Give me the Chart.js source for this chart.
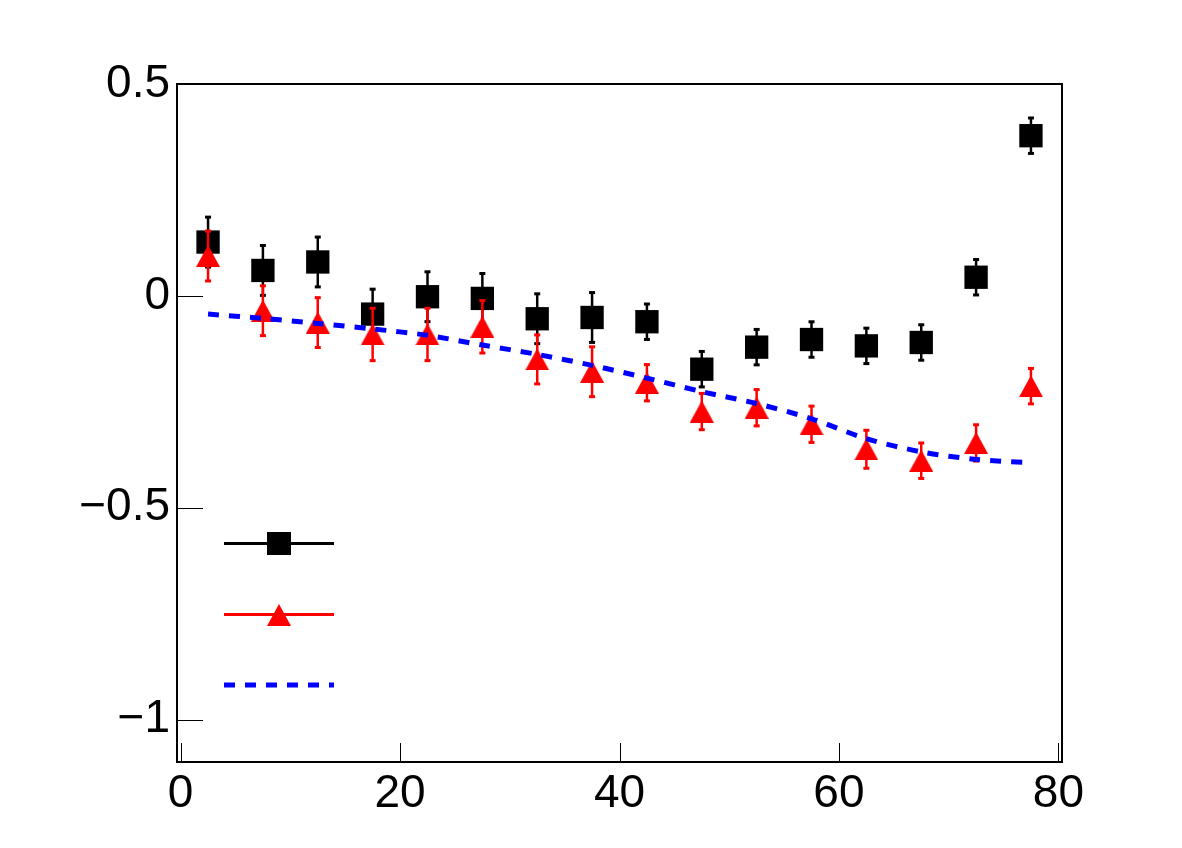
<!DOCTYPE html>
<html>
<head>
<meta charset="utf-8">
<script src="https://cdn.jsdelivr.net/npm/chart.js@4"></script>
<style>
  html, body { margin: 0; padding: 0; background: #fff; }
  canvas { display: block; }
</style>
</head>
<body>
<canvas id="c" width="1182" height="848"></canvas>
<script>
// ---- data ----
const xVals = [2.5, 7.5, 12.5, 17.5, 22.5, 27.5, 32.5, 37.5, 42.5, 47.5, 52.5, 57.5, 62.5, 67.5, 72.5, 77.5];
const blackY = [0.127, 0.060, 0.080, -0.043, -0.002, -0.006, -0.054, -0.051, -0.061, -0.173, -0.121, -0.103, -0.118, -0.110, 0.044, 0.378];
const blackErr = [0.06, 0.06, 0.06, 0.06, 0.06, 0.06, 0.06, 0.06, 0.043, 0.043, 0.043, 0.043, 0.043, 0.043, 0.043, 0.043];
const redY = [0.094, -0.035, -0.063, -0.091, -0.091, -0.073, -0.150, -0.179, -0.205, -0.273, -0.264, -0.303, -0.362, -0.389, -0.347, -0.213];
const redErr = [0.06, 0.06, 0.06, 0.063, 0.063, 0.063, 0.059, 0.06, 0.044, 0.044, 0.044, 0.044, 0.046, 0.043, 0.044, 0.043];
const curveY = [-0.043, -0.053, -0.065, -0.078, -0.093, -0.116, -0.138, -0.164, -0.194, -0.226, -0.254, -0.290, -0.337, -0.368, -0.386, -0.394];
const xTicks = [0, 20, 40, 60, 80];
const yTicks = [-1, -0.5, 0, 0.5];

const FONT = "'Liberation Sans', Arial, sans-serif";
const minus = (v) => String(v).replace('-', '\u2212');

// triangle marker as a small image so it sits centred on the point
function triangleImg(w, h, color) {
  const cv = document.createElement('canvas');
  cv.width = w; cv.height = h;
  const g = cv.getContext('2d');
  g.fillStyle = color;
  g.beginPath();
  g.moveTo(w / 2, 0); g.lineTo(w, h); g.lineTo(0, h); g.closePath();
  g.fill();
  return cv;
}
const tri = triangleImg(24, 22, '#ff0000');

function errorBars(ctx, chart, ys, errs, color) {
  const xs = chart.scales.x, yscale = chart.scales.y;
  ctx.save();
  ctx.strokeStyle = color;
  ctx.fillStyle = color;
  ctx.lineWidth = 2.5;
  xVals.forEach((xv, i) => {
    const px = xs.getPixelForValue(xv);
    const top = yscale.getPixelForValue(ys[i] + errs[i]);
    const bot = yscale.getPixelForValue(ys[i] - errs[i]);
    ctx.beginPath();
    ctx.moveTo(px, top); ctx.lineTo(px, bot);
    ctx.stroke();
    ctx.fillRect(px - 3, top - 1, 6, 3);
    ctx.fillRect(px - 3, bot - 2, 6, 3);
  });
  ctx.restore();
}

const decor = {
  id: 'decor',
  afterDatasetDraw(chart, args) {
    const ctx = chart.ctx;
    if (args.index === 0) errorBars(ctx, chart, blackY, blackErr, '#000000');
    if (args.index === 1) errorBars(ctx, chart, redY, redErr, '#ff0000');
  },
  afterDraw(chart) {
    const ctx = chart.ctx;
    const a = chart.chartArea;
    const xs = chart.scales.x, ys = chart.scales.y;
    ctx.save();
    // frame
    ctx.strokeStyle = '#000';
    ctx.lineWidth = 2;
    ctx.strokeRect(a.left, a.top, a.right - a.left, a.bottom - a.top);
    // inner ticks
    ctx.lineWidth = 1;
    yTicks.forEach((v) => {
      const py = Math.round(ys.getPixelForValue(v)) + 0.5;
      ctx.beginPath(); ctx.moveTo(a.left, py); ctx.lineTo(a.left + 26, py); ctx.stroke();
    });
    xTicks.forEach((v) => {
      const px = Math.round(xs.getPixelForValue(v)) + 0.5;
      ctx.beginPath(); ctx.moveTo(px, a.bottom); ctx.lineTo(px, a.bottom - 19); ctx.stroke();
    });

    // legend (no text)
    ctx.lineWidth = 3;
    ctx.strokeStyle = '#000';
    ctx.beginPath(); ctx.moveTo(224, 543.5); ctx.lineTo(334, 543.5); ctx.stroke();
    ctx.fillStyle = '#000';
    ctx.fillRect(267, 532, 24, 23);
    ctx.strokeStyle = '#ff0000';
    ctx.beginPath(); ctx.moveTo(224, 614.5); ctx.lineTo(334, 614.5); ctx.stroke();
    ctx.drawImage(tri, 267, 604);
    ctx.strokeStyle = '#0000ff';
    ctx.lineWidth = 5;
    ctx.setLineDash([11, 10]);
    ctx.beginPath(); ctx.moveTo(224, 685); ctx.lineTo(334, 685); ctx.stroke();
    ctx.restore();
  }
};

new Chart(document.getElementById('c'), {
  type: 'scatter',
  data: {
    datasets: [
      {
        data: xVals.map((x, i) => ({ x, y: blackY[i] })),
        pointStyle: 'rect', pointRadius: 16.5, pointHoverRadius: 16.5,
        backgroundColor: '#000', borderColor: '#000', borderWidth: 0,
        order: 2,
      },
      {
        data: xVals.map((x, i) => ({ x, y: redY[i] })),
        pointStyle: tri, pointRadius: 12,
        backgroundColor: '#ff0000', borderColor: '#ff0000', borderWidth: 0,
        order: 1,
      },
      {
        type: 'line',
        data: xVals.map((x, i) => ({ x, y: curveY[i] })),
        borderColor: '#0000ff', borderWidth: 5, borderDash: [11, 10],
        pointRadius: 0, fill: false, tension: 0.3,
        order: 0,
      },
    ],
  },
  options: {
    responsive: false,
    animation: false,
    events: [],
    layout: { padding: { top: 84, right: 120, left: 0, bottom: 0 } },
    plugins: { legend: { display: false }, tooltip: { enabled: false } },
    scales: {
      x: {
        type: 'linear', min: -0.33, max: 80.33,
        grid: { display: false, drawTicks: false },
        border: { display: false },
        afterBuildTicks: (s) => { s.ticks = xTicks.map((v) => ({ value: v })); },
        afterFit: (s) => { s.height = 86; },
        ticks: { color: '#000', padding: 5, maxRotation: 0, font: { family: FONT, size: 46 },
          callback: (v) => minus(v) },
      },
      y: {
        type: 'linear', min: -1.1, max: 0.5,
        grid: { display: false, drawTicks: false },
        border: { display: false },
        afterBuildTicks: (s) => { s.ticks = yTicks.map((v) => ({ value: v })); },
        afterFit: (s) => { s.width = 177; },
        ticks: { color: '#000', padding: 7, font: { family: FONT, size: 46 },
          callback: (v) => minus(v) },
      },
    },
  },
  plugins: [decor],
});
</script>
</body>
</html>
